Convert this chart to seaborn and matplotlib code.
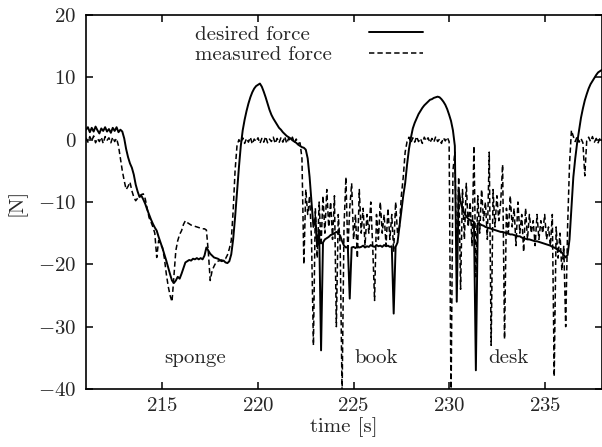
import numpy as np
import pandas as pd
import matplotlib
matplotlib.use('Agg')
import matplotlib.pyplot as plt
from matplotlib.lines import Line2D
import seaborn as sns

# sampling grid: 211 s .. 238 s, every 0.1 s
time = np.round(np.arange(211.0, 238.05, 0.1), 1)

# desired force [N] (solid), one row per second
desired = [
    1.6, 2.0, 1.2, 1.9, 1.3, 2.1, 1.5, 1.0, 1.8, 1.4,            # 211
    2.0, 1.3, 1.7, 1.1, 1.9, 1.4, 2.0, 1.2, 1.6, 1.3,            # 212
    0.2, -1.5, -2.8, -3.8, -4.5, -5.6, -7.2, -8.3, -9.2, -9.0,   # 213
    -9.6, -10.3, -11.2, -12.0, -12.8, -13.5, -14.1, -14.6, -15.6, -16.5,  # 214
    -17.4, -18.4, -19.4, -20.5, -21.6, -22.6, -23.0, -22.6, -22.0, -22.3,  # 215
    -21.5, -20.6, -19.7, -19.5, -19.3, -19.4, -19.1, -19.2, -19.0, -19.2,  # 216
    -19.0, -19.2, -18.6, -17.3, -17.8, -18.3, -18.6, -18.9, -19.0, -19.1,  # 217
    -19.3, -19.5, -19.4, -19.7, -19.8, -19.5, -18.4, -16.0, -12.5, -8.5,   # 218
    -4.5, -1.0, 1.5, 3.2, 4.6, 5.8, 6.8, 7.6, 8.2, 8.6,          # 219
    8.8, 9.0, 8.5, 7.7, 6.8, 5.8, 4.8, 4.0, 3.4, 2.9,            # 220
    2.4, 1.9, 1.6, 1.2, 0.9, 0.6, 0.4, 0.2, -0.1, -0.3,          # 221
    -0.5, -0.8, -1.0, -1.2, -1.3, -1.6, -3.0, -6.0, -10.0, -14.0,  # 222
    -12.5, -17.0, -14.5, -33.8, -16.5, -16.0, -15.8, -15.6, -15.3, -15.2,  # 223
    -15.0, -14.8, -15.0, -15.4, -16.3, -17.0, -17.3, -17.2, -25.5, -17.3,  # 224
    -17.2, -17.4, -17.1, -17.3, -17.2, -17.0, -17.3, -17.1, -17.2, -16.9,  # 225
    -17.1, -17.2, -16.9, -17.1, -17.0, -17.2, -16.9, -17.1, -17.0, -17.2,  # 226
    -17.1, -27.9, -17.2, -16.5, -14.0, -11.4, -9.0, -7.0, -4.0, -1.5,      # 227
    0.3, 1.8, 2.7, 3.4, 4.1, 4.6, 5.1, 5.5, 5.8, 6.1,            # 228
    6.4, 6.5, 6.7, 6.8, 6.9, 6.8, 6.5, 6.1, 5.6, 4.9,            # 229
    4.0, 3.0, 1.5, -1.0, -26.0, -8.0, -10.0, -11.2, -11.8, -12.3,  # 230
    -12.7, -12.9, -13.0, -13.2, -37.0, -13.4, -13.5, -13.7, -13.8, -14.0,  # 231
    -14.1, -14.2, -14.3, -14.4, -14.5, -14.6, -14.7, -14.8, -14.8, -14.9,  # 232
    -15.0, -15.1, -15.2, -15.2, -15.3, -15.4, -15.5, -15.5, -15.7, -15.8,  # 233
    -15.9, -16.0, -16.0, -16.1, -16.2, -16.3, -16.3, -16.4, -16.5, -16.6,  # 234
    -16.7, -16.8, -16.9, -17.0, -17.2, -17.3, -17.5, -17.7, -17.9, -18.1,  # 235
    -18.5, -18.9, -18.5, -16.0, -11.0, -6.0, -3.0, -0.5, 1.5, 3.5,         # 236
    5.0, 6.3, 7.3, 8.2, 8.9, 9.4, 9.9, 10.4, 10.8, 11.0,         # 237
    11.2,                                                        # 238
]

# measured force [N] (dashed)
measured = [
    0.3, -0.4, 0.5, -0.2, 0.6, -0.5, 0.2, -0.3, 0.4, -0.6,       # 211
    0.5, -0.1, 0.3, -0.5, 0.4, -0.3, 0.2, -1.0, -3.0, -5.0,      # 212
    -6.6, -8.0, -7.5, -6.8, -8.2, -9.2, -9.8, -9.4, -9.0, -8.8,  # 213
    -8.7, -9.5, -11.0, -12.5, -13.2, -14.0, -15.0, -18.9, -16.2, -16.8,    # 214
    -17.3, -19.0, -21.5, -23.5, -25.0, -26.0, -22.0, -17.8, -16.2, -15.2,  # 215
    -14.6, -13.6, -13.0, -13.3, -13.5, -13.7, -13.8, -13.9, -14.0, -14.1,  # 216
    -14.2, -14.3, -14.3, -14.5, -18.0, -22.6, -21.0, -20.3, -19.7, -19.5,  # 217
    -19.4, -19.3, -19.2, -19.1, -18.5, -17.5, -16.2, -11.4, -5.0, -1.0,    # 218
    0.0, -0.5, 0.3, -0.6, 0.2, -0.4, 0.4, -0.7, 0.1, -0.3,       # 219
    0.3, -0.6, 0.2, -0.4, 0.5, -0.5, 0.1, -0.3, 0.4, -0.6,       # 220
    0.2, -0.5, 0.3, -0.4, 0.5, -0.6, 0.2, -0.2, 0.4, -0.5,       # 221
    0.1, -0.6, -0.5, -3.0, -20.0, -8.0, -12.0, -9.0, -16.0, -33.0,         # 222
    -11.0, -19.0, -10.0, -17.0, -9.0, -15.0, -8.0, -14.0, -10.0, -16.0,    # 223
    -9.0, -30.0, -12.0, -17.0, -41.0, -14.0, -6.0, -18.0, -11.0, -7.0,     # 224
    -16.0, -12.0, -19.0, -8.0, -15.0, -11.0, -17.0, -12.0, -15.0, -10.0,   # 225
    -17.0, -25.8, -12.0, -16.0, -10.0, -15.0, -12.0, -17.0, -11.0, -16.0,  # 226
    -12.0, -18.0, -10.0, -15.0, -14.0, -9.0, -6.0, -2.0, -0.3, 0.4,        # 227
    -0.5, 0.3, -0.4, 0.5, -0.3, 0.2, -0.6, 0.4, -0.2, 0.3,       # 228
    -0.5, 0.2, -0.4, 0.5, -0.3, 0.1, -0.6, 0.3, -0.2, 0.4,       # 229
    -0.3, -42.0, -5.0, -2.0, -20.0, -6.0, -24.0, -8.0, -16.0, -7.0,        # 230
    -14.0, -10.0, -17.0, -1.0, -22.0, -9.0, -15.0, -8.0, -13.0, -10.0,     # 231
    -16.0, -2.0, -33.0, -8.0, -14.0, -9.0, -13.0, -10.0, -4.0, -32.0,      # 232
    -11.0, -15.0, -9.0, -14.0, -11.0, -17.0, -10.0, -15.0, -12.0, -18.0,   # 233
    -11.0, -16.0, -12.0, -15.0, -13.0, -17.0, -12.0, -16.0, -13.0, -15.0,  # 234
    -12.0, -16.0, -14.0, -17.0, -12.0, -38.0, -14.0, -19.0, -15.0, -21.0,  # 235
    -17.0, -30.0, -14.0, -4.0, 1.5, 0.5, -0.3, 0.5, -0.4, 0.2,             # 236
    -0.5, -5.8, -0.2, 0.4, -0.3, 0.5, -0.4, 0.2, -0.5, 0.3,      # 237
    -0.2,                                                        # 238
]

x_ticks = [215, 220, 225, 230, 235]
y_ticks = [-40, -30, -20, -10, 0, 10, 20]
annotations = [('sponge', 216.7), ('book', 226.2), ('desk', 233.1)]

sns.set_style('ticks')
plt.rcParams['font.family'] = ['cmr10', 'DejaVu Serif']
plt.rcParams['mathtext.fontset'] = 'cm'
plt.rcParams['axes.formatter.use_mathtext'] = True
plt.rcParams['font.size'] = 15

df = pd.DataFrame({'time': time, 'desired': desired, 'measured': measured})

fig = plt.figure(figsize=(6.02, 4.47), dpi=100)
ax = fig.add_axes([86 / 602, 1 - 389 / 447, 516 / 602, 374 / 447])

sns.lineplot(data=df, x='time', y='desired', color='black', linewidth=1.4,
             label='desired force', ax=ax, legend=False)
sns.lineplot(data=df, x='time', y='measured', color='black', linewidth=1.1,
             linestyle=(0, (3.5, 2)), label='measured force', ax=ax, legend=False)

ax.set_xlim(211, 238)
ax.set_ylim(-40, 20)
ax.set_xticks(x_ticks)
ax.set_yticks(y_ticks)
ax.tick_params(direction='in', length=5, width=1.1, top=True, right=True,
               labelsize=15, color='black')
ax.tick_params(axis='y', pad=7)
ax.tick_params(axis='x', pad=6)
for sp in ax.spines.values():
    sp.set_linewidth(1.2)
    sp.set_color('black')

ax.set_xlabel('time [s]', fontsize=15, labelpad=1)
ax.set_ylabel('[N]', fontsize=15)
ax.yaxis.set_label_coords(-0.116, 0.5)

for name, t in annotations:
    ax.text(t, -35, name, ha='center', va='center', fontsize=15)

# gnuplot-like key: left-aligned labels in one column, line samples in the next
lines = ax.get_lines()[:2]
blank = [Line2D([], [], linestyle='none') for _ in lines]
labels = [ln.get_label() for ln in lines]
sample_lines = [Line2D([], [], color='black', linewidth=ln.get_linewidth(),
                       linestyle=ln.get_linestyle()) for ln in lines]
sample_lines[1].set_dashes((3.5, 2))
ax.legend(blank + sample_lines, labels + ['', ''], ncol=2,
          loc='upper left', bbox_to_anchor=(0.1085, 0.973), frameon=False,
          handlelength=2.55, handletextpad=0.0, columnspacing=1.8,
          labelspacing=0.1, borderpad=0, borderaxespad=0, fontsize=15)

fig.savefig('out.png', dpi=100)
